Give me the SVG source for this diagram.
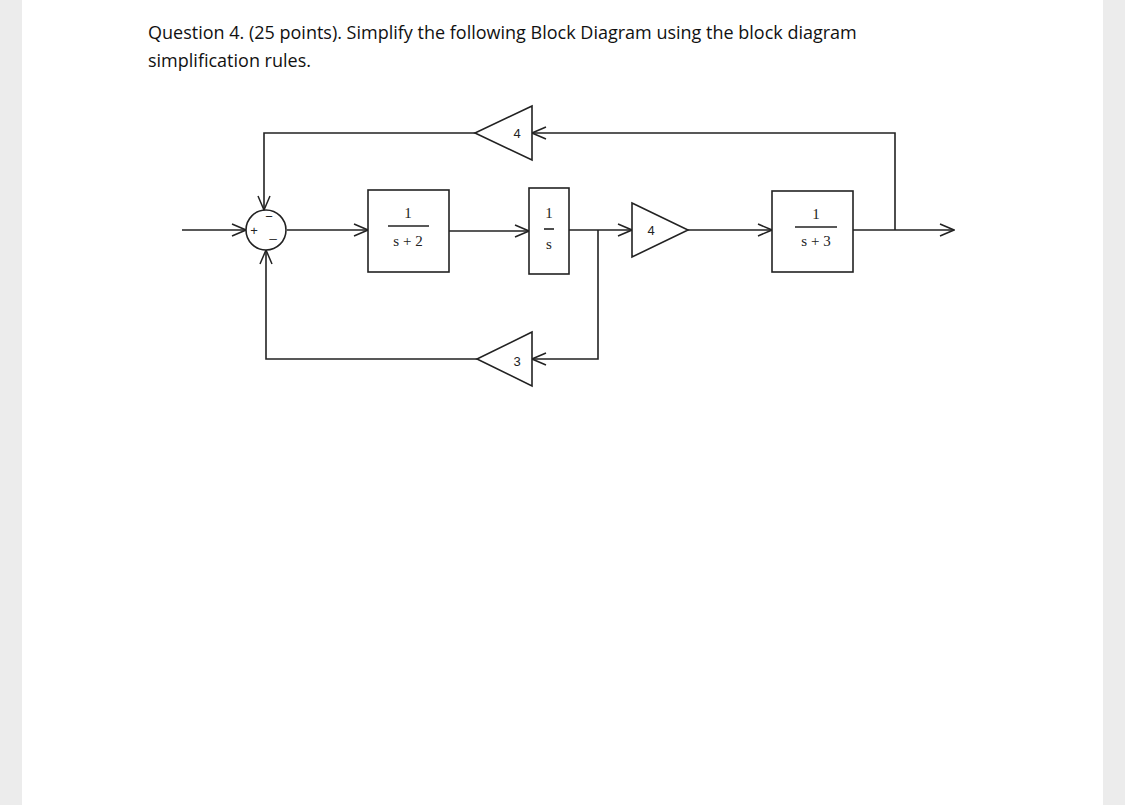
<svg xmlns="http://www.w3.org/2000/svg" width="1125" height="805" viewBox="0 0 1125 805">
<defs>
<marker id="ar" markerWidth="16" markerHeight="14" refX="15" refY="7" orient="auto" markerUnits="userSpaceOnUse">
<path d="M1,1 L15,7 L1,13" fill="none" stroke="#222" stroke-width="1.5"/>
</marker>
</defs>
<style>
.l{fill:none;stroke:#222;stroke-width:1.6}
.b{fill:#fff;stroke:#222;stroke-width:1.6}
.m{font-family:"Liberation Serif",serif;font-size:15px;fill:#222;text-anchor:middle}
.s{font-family:"Liberation Sans",sans-serif;font-size:13px;fill:#222;text-anchor:middle}
.t{font-family:"Open Sans","Liberation Sans",sans-serif;font-size:18px;fill:#111}
</style>
<rect width="1125" height="805" fill="#ececec"/>
<rect x="22" y="0" width="1081" height="805" fill="#fff"/>
<text class="t" x="148" y="39">Question 4. (25 points).  Simplify the following Block Diagram using the block diagram</text>
<text class="t" x="148" y="67">simplification rules.</text>
<g id="connectors">
<line class="l" x1="182" y1="230" x2="246" y2="230" marker-end="url(#ar)"/>
<line class="l" x1="287" y1="230" x2="368" y2="230" marker-end="url(#ar)"/>
<line class="l" x1="449" y1="231" x2="529" y2="231" marker-end="url(#ar)"/>
<line class="l" x1="569" y1="230" x2="632" y2="230" marker-end="url(#ar)"/>
<line class="l" x1="688" y1="230" x2="772" y2="230" marker-end="url(#ar)"/>
<line class="l" x1="853" y1="230" x2="954" y2="230" marker-end="url(#ar)"/>
<polyline class="l" points="895,230 895,133 532,133" marker-end="url(#ar)"/>
<polyline class="l" points="475,133 264,133 264,210" marker-end="url(#ar)"/>
<polyline class="l" points="598,230 598,359 532,359" marker-end="url(#ar)"/>
<polyline class="l" points="477,359 266,359 266,250" marker-end="url(#ar)"/>
</g>
<g id="sum">
<circle class="b" cx="266" cy="230" r="20"/>
<text class="s" x="254" y="235" font-size="11">+</text>
<text class="s" x="269" y="221" font-size="11">−</text>
<text class="s" x="273" y="237" font-size="11">_</text>
</g>
<g id="g1">
<rect class="b" x="368" y="190" width="81" height="82"/>
<text class="m" x="408" y="218">1</text>
<line class="l" x1="388" y1="226" x2="429" y2="226" stroke-width="1"/>
<text class="m" x="408" y="246">s + 2</text>
</g>
<g id="g2">
<rect class="b" x="529" y="188" width="40" height="86"/>
<text class="m" x="549" y="218">1</text>
<line class="l" x1="544" y1="229" x2="554" y2="229" stroke-width="1"/>
<text class="m" x="549" y="249">s</text>
</g>
<g id="k4f">
<polygon class="b" points="632,203 688,230 632,257"/>
<text class="s" x="651" y="235">4</text>
</g>
<g id="g3">
<rect class="b" x="772" y="191" width="81" height="81"/>
<text class="m" x="816" y="219">1</text>
<line class="l" x1="795" y1="227" x2="837" y2="227" stroke-width="1"/>
<text class="m" x="816" y="246">s + 3</text>
</g>
<g id="k4b">
<polygon class="b" points="532,106 475,133 532,160"/>
<text class="s" x="517" y="138">4</text>
</g>
<g id="k3">
<polygon class="b" points="532,332 477,359 532,386"/>
<text class="s" x="517" y="366">3</text>
</g>
</svg>
